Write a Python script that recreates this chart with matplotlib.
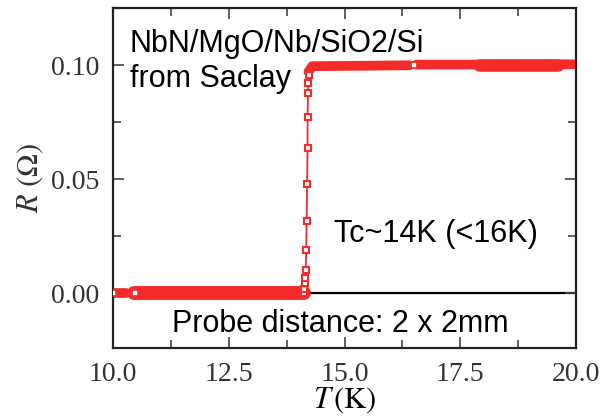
import matplotlib
matplotlib.use("Agg")
import matplotlib.pyplot as plt
from matplotlib.ticker import MultipleLocator, FormatStrFormatter

# R(T): normal-state plateau, transition, superconducting plateau
T_low_a = [10.0, 10.28]
R_low_a = [0.0, 0.0]
T_low_b = [10.45, 12.0, 14.12]
R_low_b = [0.0, 0.0, 0.0]

T_trans = [14.12, 14.13, 14.14, 14.15, 14.16, 14.17, 14.18, 14.19, 14.2, 14.2, 14.21, 14.22, 14.23]
R_trans = [0.0, 0.002, 0.0044, 0.0066, 0.0101, 0.0189, 0.0316, 0.0478, 0.0636, 0.0772, 0.0877, 0.0921, 0.0956]

T_high_a = [14.22, 14.3, 15.5, 16.4]
R_high_a = [0.097, 0.0995, 0.0997, 0.0999]
T_high_b = [16.55, 17.9, 19.6, 20.0]
R_high_b = [0.1002, 0.1002, 0.1003, 0.1003]
T_high_c = [17.9, 19.6]
R_high_c = [0.1001, 0.1001]

T_gaps = [10.0, 10.48, 16.5]
R_gaps = [0.0, 0.0, 0.1002]

xticks = [10.0, 12.5, 15.0, 17.5, 20.0]
yticks = [0.0, 0.05, 0.10]

red = "#f52a2a"

plt.rcParams["mathtext.fontset"] = "stix"

fig = plt.figure(figsize=(6.11, 4.18), dpi=100)
ax = fig.add_axes([0.185, 0.167, 0.758, 0.814])

ax.axhline(0, color="black", lw=1.6, zorder=1)

for T, R, lw in [(T_low_a, R_low_a, 7), (T_low_b, R_low_b, 10),
                 (T_high_a, R_high_a, 7), (T_high_b, R_high_b, 7),
                 (T_high_c, R_high_c, 9)]:
    ax.plot(T, R, color=red, lw=lw, solid_capstyle="round", solid_joinstyle="round", zorder=2)

ax.plot(T_trans, R_trans, color=red, lw=1.3, marker="s", ms=4.5, mfc="white",
        mec=red, mew=1.5, zorder=3)
ax.plot(T_gaps, R_gaps, ls="none", marker="s", ms=4, mfc="white", mec=red, mew=1.2, zorder=3)

ax.set_xlim(10, 20)
ax.set_ylim(-0.024, 0.125)
ax.set_xticks(xticks)
ax.set_yticks(yticks)
ax.xaxis.set_minor_locator(MultipleLocator(1.25))
ax.yaxis.set_minor_locator(MultipleLocator(0.025))
ax.xaxis.set_major_formatter(FormatStrFormatter("%.1f"))
ax.yaxis.set_major_formatter(FormatStrFormatter("%.2f"))

ax.tick_params(which="both", direction="in", top=True, right=True, width=1.2, color="#444444")
ax.tick_params(which="major", length=8, pad=10, labelsize=20, labelcolor="#333333")
ax.tick_params(which="minor", length=6)
for lab in ax.get_xticklabels() + ax.get_yticklabels():
    lab.set_family("Liberation Serif")
for s in ax.spines.values():
    s.set_linewidth(1.6)
    s.set_color("#222222")

ax.set_xlabel(r"$T\,\mathrm{(K)}$", fontsize=22, labelpad=-1)
ax.set_ylabel(r"$R\ \mathrm{(\Omega)}$", fontsize=22, color="#333333", labelpad=4)

sans = "Liberation Sans"
ax.text(10.36, 0.1057, "NbN/MgO/Nb/SiO2/Si", fontsize=22, family=sans, va="baseline")
ax.text(10.36, 0.0904, "from Saclay", fontsize=22, family=sans, va="baseline")
ax.text(14.77, 0.0224, "Tc~14K (<16K)", fontsize=22, family=sans, va="baseline")
ax.text(11.27, -0.0171, "Probe distance: 2 x 2mm", fontsize=22, family=sans, va="baseline")

fig.savefig("out.png", dpi=100)
